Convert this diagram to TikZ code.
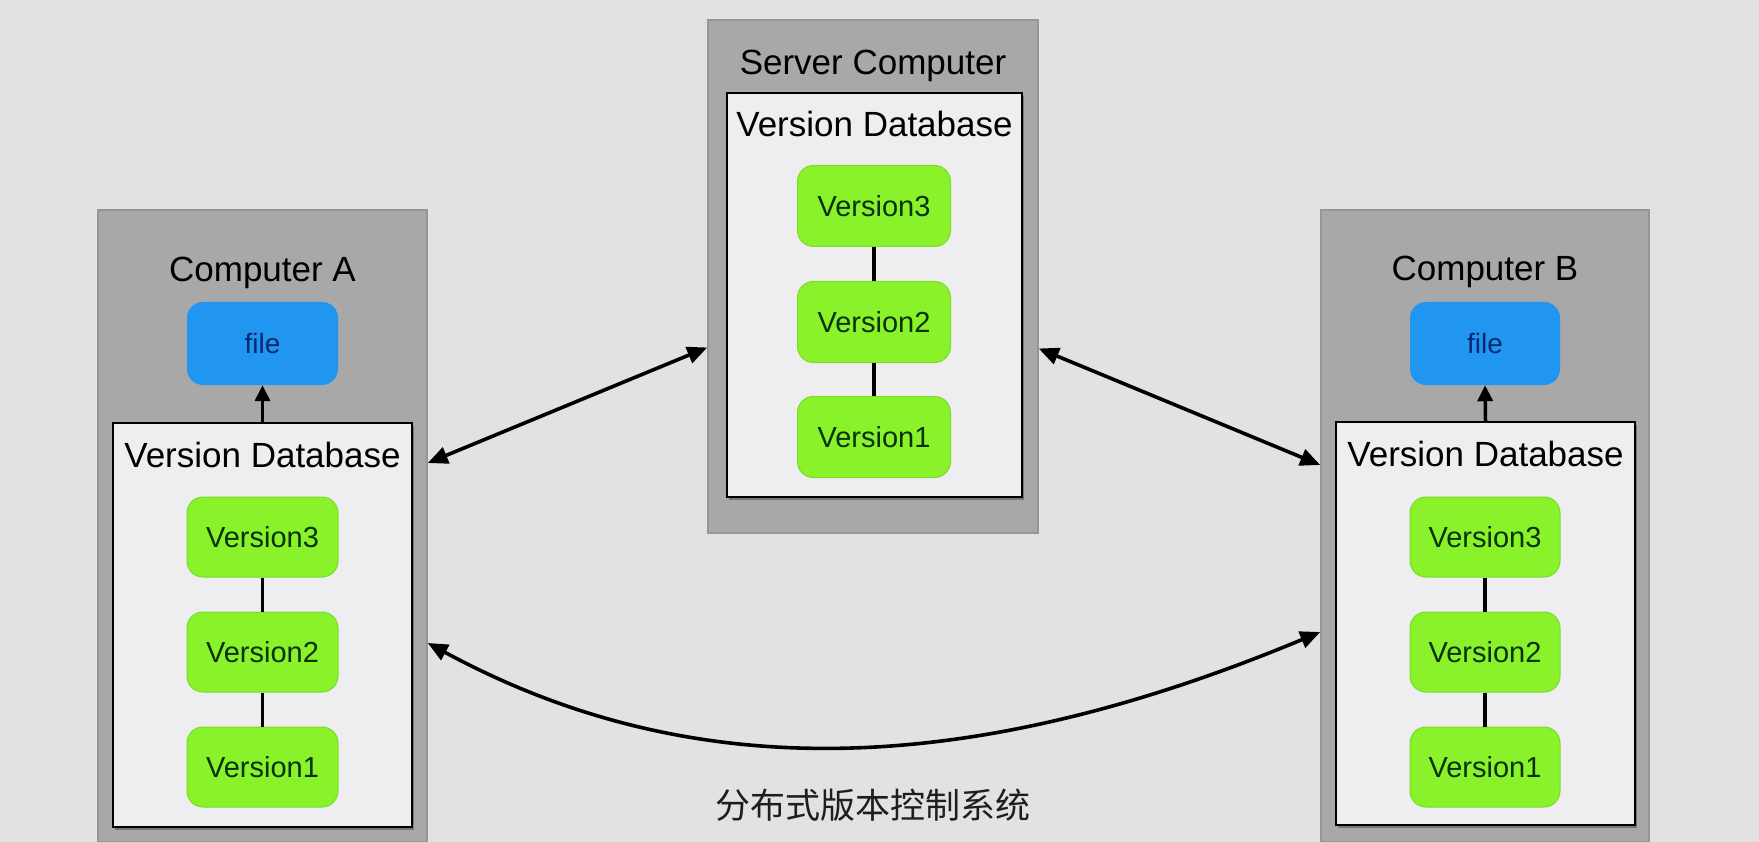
\documentclass[tikz,border=0pt]{standalone}
\usepackage{fontspec}
\setmainfont{Liberation Sans}
\newfontfamily\cjkfont{Noto Sans CJK SC}
\usetikzlibrary{arrows.meta,shadows}
\definecolor{bgc}{RGB}{226,226,226}
\definecolor{grayc}{RGB}{168,168,168}
\definecolor{graybd}{RGB}{150,150,150}
\definecolor{dbc}{RGB}{238,238,240}
\definecolor{verc}{RGB}{138,242,42}
\definecolor{verbd}{RGB}{120,220,40}
\definecolor{vertext}{RGB}{8,50,8}
\definecolor{filec}{RGB}{32,150,240}
\definecolor{filetext}{RGB}{10,40,110}
\definecolor{captc}{RGB}{30,30,30}
\begin{document}
\begin{tikzpicture}[x=1pt,y=-1pt,
  graybox/.style={draw=graybd, fill=grayc, line width=1.5pt, inner sep=0pt},
  dbbox/.style={draw=black, fill=dbc, line width=2.2pt, inner sep=0pt,
    drop shadow={shadow xshift=2pt,shadow yshift=-3pt,opacity=0.3,fill=black}},
  verbox/.style={fill=verc, draw=verbd, line width=1pt, rounded corners=16pt, minimum width=151pt, minimum height=80pt,
    text=vertext, font=\fontsize{29}{32}\selectfont, inner sep=0pt},
  filebox/.style={fill=filec, rounded corners=16pt, minimum width=151pt, minimum height=83pt,
    text=filetext, font=\fontsize{28}{32}\selectfont, inner sep=0pt},
  ttl/.style={font=\fontsize{35}{40}\selectfont, anchor=base, inner sep=0pt, text=black},
  link/.style={line width=3.2pt},
  uparrow/.style={line width=3.5pt, -{Triangle[length=16pt,width=15pt]}},
  biarrow/.style={line width=3.6pt, {Triangle[length=20pt,width=17pt]}-{Triangle[length=20pt,width=17pt]}}
]
\fill[bgc] (0,0) rectangle (1759,842);
\useasboundingbox (0,0) rectangle (1759,842);

% ---- gray computer boxes
\node[graybox, minimum width=329pt, minimum height=632pt] (compA) at (262.5,526) {};
\node[graybox, minimum width=330pt, minimum height=513pt] (server) at (873,276.5) {};
\node[graybox, minimum width=328pt, minimum height=632pt] (compB) at (1485,526) {};

% ---- titles
\node[ttl] (tA) at (262.5,282) {Computer A};
\node[ttl] (tS) at (873,75) {Server Computer};
\node[ttl] (tB) at (1485,281) {Computer B};

% ---- version databases
\node[dbbox, minimum width=299pt, minimum height=404pt] (dbA) at (262.5,625) {};
\node[dbbox, minimum width=295pt, minimum height=404pt] (dbS) at (874.5,295) {};
\node[dbbox, minimum width=299pt, minimum height=403pt] (dbB) at (1485.5,623.5) {};

\node[ttl] (dA) at (262.5,467) {Version Database};
\node[ttl] (dS) at (874.5,137) {Version Database};
\node[ttl] (dB) at (1485.5,466) {Version Database};

% ---- files
\node[filebox] (fA) at (262.5,343.5) {file};
\node[filebox, minimum width=150pt] (fB) at (1485,343.5) {file};
\draw[uparrow] (dbA.north) -- (fA.south);
\draw[uparrow] (dbB.north) -- (fB.south);

% ---- versions A
\node[verbox] (a3) at (262.5,537) {Version3};
\node[verbox] (a2) at (262.5,652) {Version2};
\node[verbox] (a1) at (262.5,767) {Version1};
% ---- versions server
\node[verbox, minimum width=153pt, minimum height=81pt] (s3) at (874,206) {Version3};
\node[verbox, minimum width=153pt, minimum height=81pt] (s2) at (874,322) {Version2};
\node[verbox, minimum width=153pt, minimum height=81pt] (s1) at (874,437) {Version1};
% ---- versions B
\node[verbox, minimum width=150pt] (b3) at (1485,537) {Version3};
\node[verbox, minimum width=150pt] (b2) at (1485,652) {Version2};
\node[verbox, minimum width=150pt] (b1) at (1485,767) {Version1};

\draw[link] (a3.south) -- (a2.north);
\draw[link] (a2.south) -- (a1.north);
\draw[link] (s3.south) -- (s2.north);
\draw[link] (s2.south) -- (s1.north);
\draw[link] (b3.south) -- (b2.north);
\draw[link] (b2.south) -- (b1.north);

% ---- sync arrows
\draw[biarrow] ([yshift=63pt]compA.east) -- ([yshift=-71pt]server.west);
\draw[biarrow] ([yshift=-72pt]server.east) -- ([yshift=61pt]compB.west);
\draw[biarrow] ([yshift=-117pt]compA.east) .. controls (690,785) and (965,780) .. ([yshift=-106pt]compB.west);

% ---- caption
\node[font=\cjkfont\fontsize{35}{40}\selectfont, text=captc, inner sep=0pt] (cap) at (873,805) {分布式版本控制系统};
\end{tikzpicture}
\end{document}
